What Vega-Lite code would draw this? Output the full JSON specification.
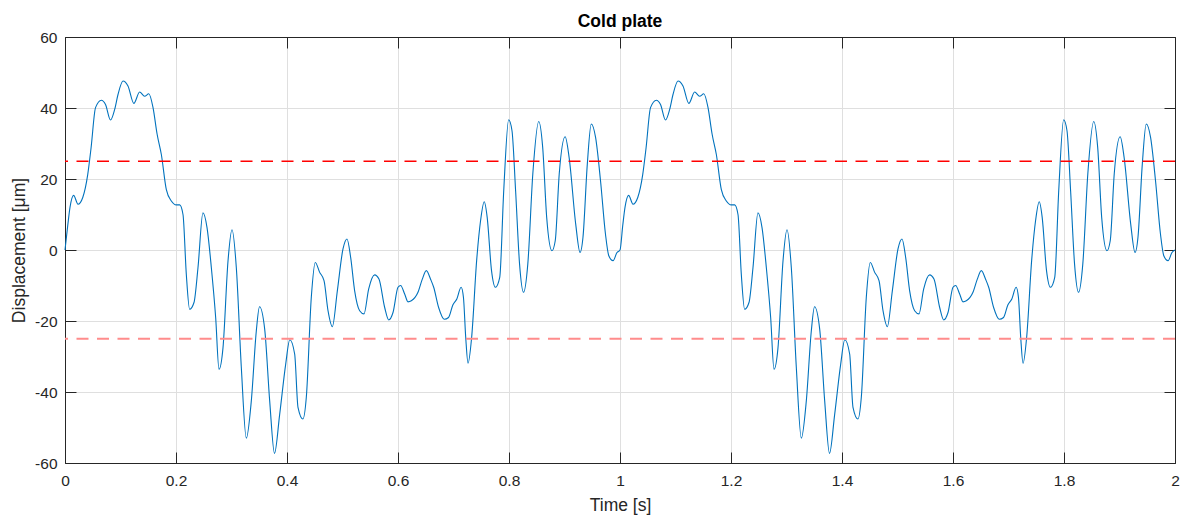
{
  "$schema": "https://vega.github.io/schema/vega-lite/v6.json",
  "width": 1110,
  "height": 426,
  "autosize": "none",
  "padding": {"left": 65, "top": 37, "right": 12, "bottom": 52},
  "background": "white",
  "title": {"text": "Cold plate", "font": "Liberation Sans", "fontSize": 17.5, "fontWeight": "bold", "color": "#000000", "anchor": "middle", "frame": "group", "offset": 0},
  "config": {
    "view": {"stroke": "#262626", "strokeWidth": 1},
    "axis": {
      "grid": true, "gridColor": "#dfdfdf", "gridOpacity": 1, "gridWidth": 1,
      "domainColor": "#262626", "tickColor": "#262626", "tickSize": -11, "tickWidth": 1,
      "labelColor": "#262626", "labelFont": "Liberation Sans", "labelFontSize": 15.5,
      "titleColor": "#262626", "titleFont": "Liberation Sans", "titleFontSize": 17.5, "titleFontWeight": "normal",
      "labelOverlap": false, "labelFlush": false
    }
  },
  "datasets": {
    "signal": [
      {"t":0,"v":0},{"t":0.005,"v":7},{"t":0.009,"v":12},{"t":0.0156,"v":15.4},{"t":0.0234,"v":12.9},{"t":0.032,"v":14.8},{"t":0.041,"v":21.3},{"t":0.047,"v":28.8},{"t":0.055,"v":40.1},{"t":0.0655,"v":42.2},{"t":0.073,"v":41},{"t":0.082,"v":36.6},{"t":0.0895,"v":39.6},{"t":0.0955,"v":43.8},{"t":0.1045,"v":47.6},{"t":0.1135,"v":46.2},{"t":0.124,"v":41.3},{"t":0.1345,"v":44.5},{"t":0.1435,"v":43.3},{"t":0.151,"v":44},{"t":0.1586,"v":40.1},{"t":0.166,"v":32.6},{"t":0.1736,"v":26.9},{"t":0.1826,"v":17},{"t":0.1916,"v":13.8},{"t":0.2006,"v":12.7},{"t":0.2066,"v":12.7},{"t":0.2126,"v":10},{"t":0.2186,"v":-6.9},{"t":0.2246,"v":-16.7},{"t":0.2324,"v":-14.8},{"t":0.2396,"v":-5},{"t":0.2486,"v":10.5},{"t":0.2559,"v":6.3},{"t":0.2637,"v":-5},{"t":0.2715,"v":-19.1},{"t":0.2775,"v":-33.6},{"t":0.2847,"v":-27.5},{"t":0.2937,"v":-3.1},{"t":0.3009,"v":5.7},{"t":0.3087,"v":-5},{"t":0.3177,"v":-33.1},{"t":0.3267,"v":-53},{"t":0.3357,"v":-42.5},{"t":0.3447,"v":-22.8},{"t":0.3505,"v":-16},{"t":0.3598,"v":-22.3},{"t":0.3688,"v":-42.5},{"t":0.3775,"v":-57.3},{"t":0.3868,"v":-46.3},{"t":0.3976,"v":-32.2},{"t":0.405,"v":-25.3},{"t":0.4138,"v":-29.3},{"t":0.4198,"v":-44.3},{"t":0.4288,"v":-47.6},{"t":0.4348,"v":-41.5},{"t":0.4438,"v":-13.3},{"t":0.451,"v":-3.5},{"t":0.4589,"v":-6.3},{"t":0.4667,"v":-8.6},{"t":0.4739,"v":-17.1},{"t":0.4817,"v":-21.6},{"t":0.4907,"v":-11.5},{"t":0.5009,"v":0.3},{"t":0.5081,"v":3.1},{"t":0.5147,"v":-2.1},{"t":0.5219,"v":-11.5},{"t":0.5309,"v":-17.1},{"t":0.5387,"v":-18},{"t":0.5471,"v":-11},{"t":0.5579,"v":-7},{"t":0.5657,"v":-8.2},{"t":0.576,"v":-16.2},{"t":0.5832,"v":-19.7},{"t":0.591,"v":-17.6},{"t":0.6,"v":-10.5},{"t":0.6048,"v":-10},{"t":0.612,"v":-12.4},{"t":0.618,"v":-14.6},{"t":0.624,"v":-14.3},{"t":0.636,"v":-11.9},{"t":0.6438,"v":-8.2},{"t":0.651,"v":-5.8},{"t":0.6589,"v":-8.3},{"t":0.6643,"v":-10.5},{"t":0.6732,"v":-16.2},{"t":0.6833,"v":-19.5},{"t":0.6911,"v":-19},{"t":0.6988,"v":-15.5},{"t":0.706,"v":-13.8},{"t":0.7137,"v":-10.5},{"t":0.7179,"v":-13.3},{"t":0.722,"v":-24.6},{"t":0.7262,"v":-31.9},{"t":0.7327,"v":-24.6},{"t":0.7417,"v":-3},{"t":0.7488,"v":8.3},{"t":0.7554,"v":13.6},{"t":0.7607,"v":9.2},{"t":0.7685,"v":-5.8},{"t":0.7756,"v":-10.5},{"t":0.7833,"v":-7.7},{"t":0.7905,"v":16.7},{"t":0.7994,"v":36.7},{"t":0.8054,"v":33.6},{"t":0.8119,"v":16.7},{"t":0.819,"v":-3.9},{"t":0.8262,"v":-11.9},{"t":0.8339,"v":-3.9},{"t":0.8429,"v":21.4},{"t":0.8536,"v":36.2},{"t":0.8607,"v":28.9},{"t":0.8679,"v":9.2},{"t":0.8774,"v":-0.2},{"t":0.8833,"v":2.6},{"t":0.8905,"v":21.4},{"t":0.9012,"v":31.9},{"t":0.9083,"v":26.1},{"t":0.9202,"v":7.3},{"t":0.928,"v":-0.7},{"t":0.9333,"v":3.6},{"t":0.9411,"v":24.2},{"t":0.9482,"v":35.5},{"t":0.956,"v":31.7},{"t":0.9649,"v":19.5},{"t":0.9738,"v":4.5},{"t":0.9798,"v":-1.6},{"t":0.9875,"v":-3},{"t":0.9946,"v":-0.7},
      {"t":1.0,"v":0},{"t":1.005,"v":7},{"t":1.009,"v":12},{"t":1.0156,"v":15.4},{"t":1.0234,"v":12.9},{"t":1.032,"v":14.8},{"t":1.041,"v":21.3},{"t":1.047,"v":28.8},{"t":1.055,"v":40.1},{"t":1.0655,"v":42.2},{"t":1.073,"v":41},{"t":1.082,"v":36.6},{"t":1.0895,"v":39.6},{"t":1.0955,"v":43.8},{"t":1.1045,"v":47.6},{"t":1.1135,"v":46.2},{"t":1.124,"v":41.3},{"t":1.1345,"v":44.5},{"t":1.1435,"v":43.3},{"t":1.151,"v":44},{"t":1.1586,"v":40.1},{"t":1.166,"v":32.6},{"t":1.1736,"v":26.9},{"t":1.1826,"v":17},{"t":1.1916,"v":13.8},{"t":1.2006,"v":12.7},{"t":1.2066,"v":12.7},{"t":1.2126,"v":10},{"t":1.2186,"v":-6.9},{"t":1.2246,"v":-16.7},{"t":1.2324,"v":-14.8},{"t":1.2396,"v":-5},{"t":1.2486,"v":10.5},{"t":1.2559,"v":6.3},{"t":1.2637,"v":-5},{"t":1.2715,"v":-19.1},{"t":1.2775,"v":-33.6},{"t":1.2847,"v":-27.5},{"t":1.2937,"v":-3.1},{"t":1.3009,"v":5.7},{"t":1.3087,"v":-5},{"t":1.3177,"v":-33.1},{"t":1.3267,"v":-53},{"t":1.3357,"v":-42.5},{"t":1.3447,"v":-22.8},{"t":1.3505,"v":-16},{"t":1.3598,"v":-22.3},{"t":1.3688,"v":-42.5},{"t":1.3775,"v":-57.3},{"t":1.3868,"v":-46.3},{"t":1.3976,"v":-32.2},{"t":1.405,"v":-25.3},{"t":1.4138,"v":-29.3},{"t":1.4198,"v":-44.3},{"t":1.4288,"v":-47.6},{"t":1.4348,"v":-41.5},{"t":1.4438,"v":-13.3},{"t":1.451,"v":-3.5},{"t":1.4589,"v":-6.3},{"t":1.4667,"v":-8.6},{"t":1.4739,"v":-17.1},{"t":1.4817,"v":-21.6},{"t":1.4907,"v":-11.5},{"t":1.5009,"v":0.3},{"t":1.5081,"v":3.1},{"t":1.5147,"v":-2.1},{"t":1.5219,"v":-11.5},{"t":1.5309,"v":-17.1},{"t":1.5387,"v":-18},{"t":1.5471,"v":-11},{"t":1.5579,"v":-7},{"t":1.5657,"v":-8.2},{"t":1.576,"v":-16.2},{"t":1.5832,"v":-19.7},{"t":1.591,"v":-17.6},{"t":1.6,"v":-10.5},{"t":1.6048,"v":-10},{"t":1.612,"v":-12.4},{"t":1.618,"v":-14.6},{"t":1.624,"v":-14.3},{"t":1.636,"v":-11.9},{"t":1.6438,"v":-8.2},{"t":1.651,"v":-5.8},{"t":1.6589,"v":-8.3},{"t":1.6643,"v":-10.5},{"t":1.6732,"v":-16.2},{"t":1.6833,"v":-19.5},{"t":1.6911,"v":-19},{"t":1.6988,"v":-15.5},{"t":1.706,"v":-13.8},{"t":1.7137,"v":-10.5},{"t":1.7179,"v":-13.3},{"t":1.722,"v":-24.6},{"t":1.7262,"v":-31.9},{"t":1.7327,"v":-24.6},{"t":1.7417,"v":-3},{"t":1.7488,"v":8.3},{"t":1.7554,"v":13.6},{"t":1.7607,"v":9.2},{"t":1.7685,"v":-5.8},{"t":1.7756,"v":-10.5},{"t":1.7833,"v":-7.7},{"t":1.7905,"v":16.7},{"t":1.7994,"v":36.7},{"t":1.8054,"v":33.6},{"t":1.8119,"v":16.7},{"t":1.819,"v":-3.9},{"t":1.8262,"v":-11.9},{"t":1.8339,"v":-3.9},{"t":1.8429,"v":21.4},{"t":1.8536,"v":36.2},{"t":1.8607,"v":28.9},{"t":1.8679,"v":9.2},{"t":1.8774,"v":-0.2},{"t":1.8833,"v":2.6},{"t":1.8905,"v":21.4},{"t":1.9012,"v":31.9},{"t":1.9083,"v":26.1},{"t":1.9202,"v":7.3},{"t":1.928,"v":-0.7},{"t":1.9333,"v":3.6},{"t":1.9411,"v":24.2},{"t":1.9482,"v":35.5},{"t":1.956,"v":31.7},{"t":1.9649,"v":19.5},{"t":1.9738,"v":4.5},{"t":1.9798,"v":-1.6},{"t":1.9875,"v":-3},{"t":1.9946,"v":-0.7},{"t":2.0,"v":0}
    ],
    "limits": [{"y": 25}, {"y": -25}]
  },
  "layer": [
    {
      "data": {"name": "signal"},
      "mark": {"type": "line", "color": "#0072BD", "strokeWidth": 1.1, "interpolate": "monotone"},
      "encoding": {
        "x": {"field": "t", "type": "quantitative", "scale": {"domain": [0, 2], "nice": false},
              "axis": {"orient": "bottom", "title": "Time [s]", "values": [0,0.2,0.4,0.6,0.8,1,1.2,1.4,1.6,1.8,2], "labelExpr": "'' + datum.value", "labelPadding": 21, "titlePadding": 8}},
        "y": {"field": "v", "type": "quantitative", "scale": {"domain": [-60, 60], "nice": false},
              "axis": {"orient": "left", "title": "Displacement [μm]", "values": [-60,-40,-20,0,20,40,60], "labelExpr": "'' + datum.value", "labelPadding": 19, "titlePadding": 6}}
      }
    },
    {
      "data": {"name": "limits"},
      "mark": {"type": "rule", "strokeDash": [12, 8.5]},
      "encoding": {
        "y": {"field": "y", "type": "quantitative", "axis": null},
        "color": {"condition": {"test": "datum.y < 0", "value": "#ff8c8c"}, "value": "#ff0000"},
        "strokeWidth": {"condition": {"test": "datum.y < 0", "value": 2}, "value": 1.3}
      }
    },
    {
      "data": {"name": "signal"},
      "mark": {"type": "point", "opacity": 0, "size": 0},
      "encoding": {
        "x": {"field": "t", "type": "quantitative", "axis": {"orient": "top", "title": null, "labels": false, "grid": false, "values": [0,0.2,0.4,0.6,0.8,1,1.2,1.4,1.6,1.8,2]}},
        "y": {"field": "v", "type": "quantitative", "axis": {"orient": "right", "title": null, "labels": false, "grid": false, "values": [-60,-40,-20,0,20,40,60]}}
      }
    }
  ],
  "resolve": {"axis": {"x": "independent", "y": "independent"}}
}
